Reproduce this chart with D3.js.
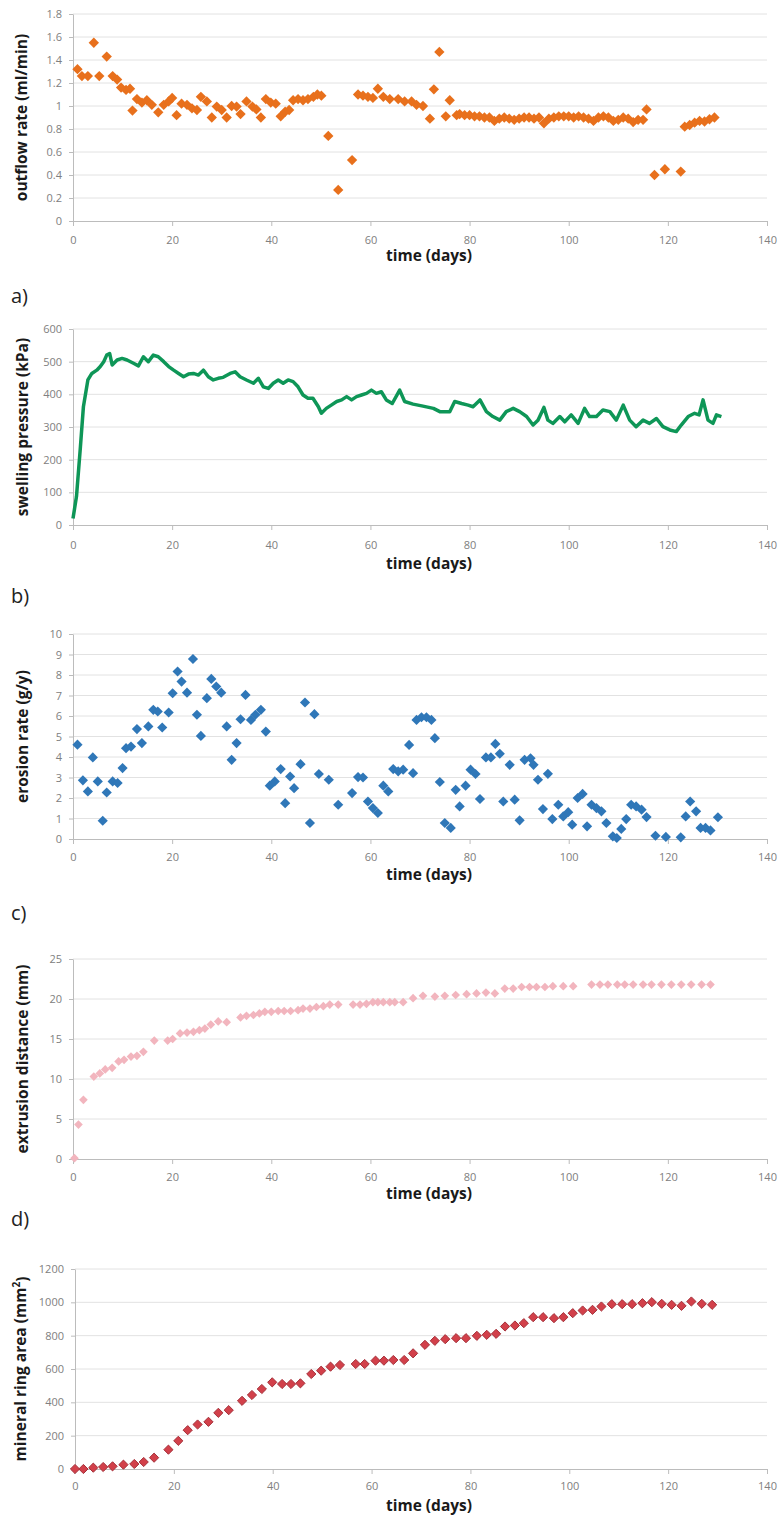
<!DOCTYPE html>
<html>
<head>
<meta charset="utf-8">
<script src="https://cdn.jsdelivr.net/npm/d3@7"></script>
<style>
  html, body { margin: 0; padding: 0; background: #fff; }
  svg { display: block; }
</style>
</head>
<body>
<svg id="chart" width="781" height="1517"></svg>
<script>
// ---- data ----
var xTicks = [0, 20, 40, 60, 80, 100, 120, 140];

// a) outflow rate (ml/min)
var outflowTicks = [0, 0.2, 0.4, 0.6, 0.8, 1, 1.2, 1.4, 1.6, 1.8];
var outflowDays = [0.9, 1.8, 3, 4.2, 5.3, 6.8, 8, 8.9, 9.7, 10.7, 11.5, 12, 12.9, 13.9, 14.9, 15.9, 17.2, 18.3, 19.3, 20,
    20.9, 21.9, 23, 24, 25, 25.8, 27, 28, 29, 30, 31, 32, 33, 33.8, 35, 36.2, 37, 37.9, 38.9, 39.9,
    40.9, 41.9, 42.8, 43.6, 44.4, 45.4, 46.4, 47.4, 48.5, 49.3, 50.1, 51.5, 53.5, 56.3, 57.5, 58.5, 59.5, 60.5, 61.5, 62.6,
    63.9, 65.6, 66.9, 68.3, 69.3, 70.6, 72, 72.8, 73.9, 75.2, 76, 77.4,
    78, 79, 80, 81, 82, 83, 84, 85, 86, 87, 88, 89, 90, 91, 92, 93, 94, 95, 96, 97,
    98, 99, 100, 101, 102, 103, 104, 105, 106, 107, 108, 109, 110, 111, 112, 113, 114, 115,
    115.7, 117.3, 119.4, 122.6, 123.4, 124.4, 125.4, 126.4, 127.4, 128.4, 129.4];
var outflowRate = [1.32, 1.26, 1.26, 1.55, 1.26, 1.43, 1.26, 1.23, 1.16, 1.14, 1.15, 0.96, 1.06, 1.03, 1.05, 1.01, 0.945, 1.01, 1.04, 1.07,
    0.92, 1.02, 1.01, 0.98, 0.965, 1.08, 1.04, 0.90, 0.995, 0.965, 0.90, 1.0, 0.995, 0.93, 1.04, 0.995, 0.97, 0.90, 1.06, 1.03,
    1.02, 0.91, 0.95, 0.965, 1.05, 1.06, 1.05, 1.06, 1.08, 1.10, 1.09, 0.74, 0.27, 0.53, 1.10, 1.09, 1.08, 1.07, 1.15, 1.08,
    1.06, 1.06, 1.04, 1.04, 1.01, 1.0, 0.89, 1.145, 1.47, 0.91, 1.05, 0.92,
    0.93, 0.92, 0.92, 0.91, 0.91, 0.90, 0.90, 0.87, 0.89, 0.90, 0.89, 0.88, 0.89, 0.90, 0.90, 0.89, 0.90, 0.85, 0.89, 0.90,
    0.91, 0.91, 0.91, 0.90, 0.91, 0.90, 0.89, 0.87, 0.90, 0.91, 0.90, 0.87, 0.88, 0.90, 0.89, 0.86, 0.88, 0.88,
    0.97, 0.40, 0.45, 0.43, 0.82, 0.835, 0.855, 0.87, 0.865, 0.885, 0.90];

// b) swelling pressure (kPa)
var pressureTicks = [0, 100, 200, 300, 400, 500, 600];
var pressureDays = [0, 0.7, 1.5, 2.1, 3, 3.8, 4.8, 5.5, 6.2, 6.8, 7.4, 7.9, 8.9, 9.9, 10.9, 12.2, 13.2, 14.2, 15.2, 16.2,
    17.2, 18.3, 19.3, 20.3, 21.3, 22.3, 23.3, 24.3, 25.3, 26.3, 27.3, 28.3, 29.3, 30.3, 31.7, 32.7, 33.7, 35, 36.4, 37.4,
    38.4, 39.4, 40.4, 41.4, 42.4, 43.4, 44.4, 45.4, 46.4, 47.4, 48.4, 49.5, 50.1, 51.1, 52.1, 53.2, 54.2, 55.2, 56.2, 57.2,
    58.2, 59.2, 60.2, 61.2, 62.2, 63.2, 64.4, 65.9, 66.9, 68.6, 70.6, 72.7, 74, 76, 77, 78.4, 79.7, 80.7, 82.1, 83.4,
    84.7, 86.1, 87.4, 88.8, 90.1, 91.5, 92.8, 93.8, 95, 95.8, 96.8, 98.2, 99.2, 100.5, 101.9, 103.2, 104.2, 105.6, 106.9, 108.3,
    109.6, 111, 112.3, 113.6, 115, 116.3, 117.7, 119, 120.4, 121.7, 122.7, 124.1, 125.4, 126.3, 127.1, 128.1, 129.1, 129.8, 130.8];
var pressure = [20, 87, 240, 362, 444, 464, 474, 485, 500, 520, 525, 490, 505, 510, 505, 495, 487, 515, 500, 520,
    515, 500, 485, 474, 464, 454, 462, 464, 459, 474, 454, 444, 449, 452, 464, 469, 454, 444, 434, 449,
    423, 418, 434, 444, 434, 444, 439, 423, 398, 388, 388, 362, 342, 357, 367, 378, 383, 393, 383, 393,
    398, 403, 413, 403, 408, 383, 372, 413, 378, 370, 364, 357, 347, 347, 378, 372, 367, 362, 383, 347,
    332, 321, 347, 357, 347, 332, 306, 321, 360, 321, 311, 332, 316, 337, 311, 357, 332, 332, 352, 347,
    321, 367, 321, 301, 321, 311, 326, 301, 291, 286, 306, 332, 342, 337, 383, 321, 311, 337, 332];

// c) erosion rate (g/y)
var erosionTicks = [0, 1, 2, 3, 4, 5, 6, 7, 8, 9, 10];
var erosionDays = [0.9, 2, 3, 4, 5, 6, 6.8, 8, 9, 10, 10.7, 11.7, 12.9, 13.9, 15.2, 16.2, 17.1, 18, 19.3, 20.1,
    21.1, 21.9, 23, 24.2, 25, 25.8, 27, 27.9, 28.9, 29.9, 31, 32, 33, 33.8, 34.8, 35.9, 36.8, 37.9, 38.9, 39.7,
    40.7, 41.9, 42.8, 43.8, 44.6, 45.9, 46.8, 47.8, 48.7, 49.6, 51.6, 53.5, 56.3, 57.5, 58.5, 59.5, 60.5, 61.5, 62.6, 63.6,
    64.6, 65.6, 66.6, 67.8, 68.6, 69.3, 70.3, 71.3, 72.3, 73, 74, 75, 76.2, 77.2, 78, 79.2, 80.2, 81.2, 82.1, 83.3,
    84.3, 85.2, 86.1, 86.8, 88.1, 89.1, 90.1, 91.1, 92.3, 92.9, 93.8, 94.8, 95.8, 96.7, 97.9, 98.9, 99.9, 100.7, 101.8, 102.8,
    103.7, 104.6, 105.6, 106.6, 107.6, 108.9, 109.7, 110.6, 111.6, 112.6, 113.6, 114.7, 115.7, 117.5, 119.6, 122.6, 123.6, 124.5, 125.7, 126.6,
    127.6, 128.6, 130.1];
var erosion = [4.6, 2.86, 2.32, 3.98, 2.81, 0.89, 2.27, 2.81, 2.73, 3.46, 4.43, 4.51, 5.36, 4.68, 5.49, 6.3, 6.22, 5.44, 6.17, 7.11,
    8.17, 7.68, 7.14, 8.78, 6.06, 5.03, 6.87, 7.81, 7.44, 7.14, 5.49, 3.86, 4.68, 5.84, 7.03, 5.81, 6.06, 6.3, 5.24, 2.6,
    2.81, 3.41, 1.75, 3.05, 2.48, 3.65, 6.66, 0.78, 6.09, 3.17, 2.89, 1.67, 2.24, 3.02, 3.0, 1.83, 1.51, 1.27, 2.6, 2.32,
    3.41, 3.3, 3.38, 4.59, 3.21, 5.81, 5.94, 5.94, 5.81, 4.92, 2.78, 0.78, 0.54, 2.4, 1.59, 2.6, 3.38, 3.17, 1.95, 3.98,
    3.98, 4.64, 4.16, 1.83, 3.62, 1.92, 0.91, 3.86, 3.94, 3.62, 2.89, 1.46, 3.18, 0.97, 1.67, 1.1, 1.31, 0.7, 2.0, 2.2,
    0.62, 1.67, 1.51, 1.35, 0.78, 0.13, 0.05, 0.49, 0.97, 1.67, 1.59, 1.43, 1.07, 0.16, 0.1, 0.08, 1.1, 1.83, 1.35, 0.54,
    0.54, 0.42, 1.06];

// d) extrusion distance (mm)
var extrusionTicks = [0, 5, 10, 15, 20, 25];
var extrusionDays = [0.3, 1.1, 2.1, 4.2, 5.4, 6.5, 7.9, 9.2, 10.3, 11.7, 12.9, 14.2, 16.4, 19.1, 20.1, 21.6, 23, 24.3, 25.5, 26.6,
    27.8, 29.3, 31, 33.8, 35, 36.4, 37.6, 38.7, 40, 41.4, 42.6, 43.9, 45.4, 46.4, 47.8, 49.1, 50.5, 51.8, 53.5, 56.5,
    57.9, 59.2, 60.5, 61.5, 62.6, 63.9, 64.9, 66.6, 68.6, 70.6, 73, 75, 77.2, 79.4, 81.4, 83.3, 85.1, 87.1, 88.8, 90.5,
    92.1, 93.5, 95.2, 96.8, 98.9, 100.9, 104.6, 106.3, 107.9, 109.8, 111.3, 113, 115, 116.7, 118.7, 120.7, 122.7, 124.7, 126.8, 128.6];
var extrusion = [0.1, 4.3, 7.4, 10.3, 10.7, 11.2, 11.4, 12.2, 12.4, 12.8, 12.9, 13.4, 14.8, 14.8, 15, 15.7, 15.8, 15.9, 16.1, 16.3,
    16.8, 17.2, 17.1, 17.7, 17.9, 18, 18.2, 18.4, 18.4, 18.5, 18.5, 18.5, 18.6, 18.8, 18.8, 19, 19.1, 19.3, 19.3, 19.3,
    19.3, 19.4, 19.6, 19.6, 19.6, 19.6, 19.6, 19.6, 20.1, 20.4, 20.3, 20.4, 20.5, 20.6, 20.7, 20.8, 20.7, 21.3, 21.3, 21.5,
    21.5, 21.5, 21.5, 21.6, 21.6, 21.6, 21.8, 21.8, 21.8, 21.8, 21.8, 21.8, 21.8, 21.8, 21.8, 21.8, 21.8, 21.8, 21.8, 21.8];

// e) mineral ring area (mm2)
var ringTicks = [0, 200, 400, 600, 800, 1000, 1200];
var ringDays = [0, 1.7, 3.7, 5.7, 7.6, 9.8, 12, 13.9, 16, 18.9, 20.9, 22.8, 24.8, 27, 29, 31.1, 33.8, 35.8, 37.8, 39.9,
    41.9, 43.7, 45.6, 47.8, 49.8, 51.7, 53.6, 56.8, 58.6, 60.8, 62.5, 64.4, 66.6, 68.4, 70.8, 72.8, 74.9, 77.1, 79.1, 81.3,
    83.3, 85.2, 87, 89, 90.8, 92.7, 94.7, 96.9, 98.8, 100.7, 102.7, 104.7, 106.5, 108.6, 110.7, 112.7, 114.8, 116.7, 118.7, 120.7,
    122.7, 124.7, 126.8, 128.9];
var ringArea = [0, 0, 8, 12, 16, 26, 30, 42, 68, 116, 169, 233, 267, 283, 337, 353, 409, 444, 480, 520,
    510, 510, 514, 570, 590, 614, 624, 630, 630, 650, 650, 654, 654, 694, 745, 769, 779, 785, 785, 799,
    805, 811, 855, 861, 875, 911, 911, 905, 911, 935, 951, 955, 975, 989, 989, 989, 995, 1001, 991, 985,
    979, 1005, 991, 985];

// ---- layout ----
var svg = d3.select("#chart");
var fontFam = "'Open Sans', 'Noto Sans', sans-serif";
var xRight = 767;

svg.append("rect").attr("width", 781).attr("height", 1517).attr("fill", "#fff");

function drawPanel(p) {
    var x = d3.scaleLinear().domain([0, 140]).range([p.left, xRight]);
    var y = d3.scaleLinear().domain([0, p.yTicks[p.yTicks.length - 1]]).range([p.bottom, p.top]);
    var g = svg.append("g");

    // horizontal gridlines
    g.append("g").selectAll("line")
            .data(p.yTicks.slice(1))
            .join("line")
            .attr("x1", p.left).attr("x2", xRight)
            .attr("y1", function (d) { return y(d); })
            .attr("y2", function (d) { return y(d); })
            .attr("stroke", "#e2e2e2")
            .attr("stroke-width", 1);

    var fmt = d3.format("~g");
    var ax = g.append("g")
            .attr("transform", "translate(0," + p.bottom + ")")
            .call(d3.axisBottom(x).tickValues(xTicks).tickSizeInner(5).tickSizeOuter(0).tickPadding(p.xPad).tickFormat(fmt));
    var ay = g.append("g")
            .attr("transform", "translate(" + p.left + ",0)")
            .call(d3.axisLeft(y).tickValues(p.yTicks).tickSizeInner(4).tickSizeOuter(0).tickPadding(7).tickFormat(fmt));
    [ax, ay].forEach(function (a) {
        a.select(".domain").attr("stroke", "#bcbcbc");
        a.selectAll(".tick line").attr("stroke", "#bcbcbc");
        a.selectAll(".tick text")
                .attr("fill", "#808080")
                .style("font-family", fontFam)
                .style("font-size", "11px");
    });

    // axis titles
    g.append("text")
            .attr("x", 429).attr("y", p.xLabelY)
            .attr("text-anchor", "middle")
            .attr("dominant-baseline", "central")
            .style("font-family", fontFam).style("font-size", "15.5px").style("font-weight", "bold")
            .attr("fill", "#1a1a1a")
            .text("time (days)");

    var yl = g.append("text")
            .attr("transform", "translate(" + p.yLabelX + "," + ((p.top + p.bottom) / 2) + ") rotate(-90)")
            .attr("text-anchor", "middle")
            .attr("dominant-baseline", "central")
            .style("font-family", fontFam).style("font-size", "15.5px").style("font-weight", "bold")
            .attr("fill", "#1a1a1a");
    if (p.yLabelSup) {
        yl.append("tspan").text(p.yLabel);
        yl.append("tspan").attr("dy", "-0.45em").style("font-size", "10px").text(p.yLabelSup);
        yl.append("tspan").attr("dy", "0.45em").text(")");
    } else {
        yl.text(p.yLabel);
    }

    p.draw(g, x, y);
}

function diamonds(g, xs, ys, x, y, size, fill, stroke) {
    var sym = d3.symbol().type(d3.symbolDiamond2).size(size);
    g.append("g").selectAll("path")
            .data(xs.map(function (d, i) { return [d, ys[i]]; }))
            .join("path")
            .attr("d", sym)
            .attr("transform", function (d) { return "translate(" + x(d[0]) + "," + y(d[1]) + ")"; })
            .attr("fill", fill)
            .attr("stroke", stroke || "none")
            .attr("stroke-width", stroke ? 1 : 0);
}

function panelLetter(txt, yy) {
    svg.append("text")
            .attr("x", 11).attr("y", yy)
            .attr("dominant-baseline", "central")
            .style("font-family", fontFam).style("font-size", "20px")
            .attr("fill", "#222")
            .text(txt);
}

drawPanel({
    top: 14, bottom: 221, left: 73, xPad: 10, xLabelY: 255, yLabelX: 21,
    yTicks: outflowTicks, yLabel: "outflow rate (ml/min)",
    draw: function (g, x, y) { diamonds(g, outflowDays, outflowRate, x, y, 68, "#e8701c"); }
});
panelLetter("a)", 295);

drawPanel({
    top: 329, bottom: 525, left: 73, xPad: 11, xLabelY: 563, yLabelX: 22,
    yTicks: pressureTicks, yLabel: "swelling pressure (kPa)",
    draw: function (g, x, y) {
        var line = d3.line()
                .x(function (d) { return x(d[0]); })
                .y(function (d) { return y(d[1]); });
        g.append("path")
                .datum(pressureDays.map(function (d, i) { return [d, pressure[i]]; }))
                .attr("d", line)
                .attr("fill", "none")
                .attr("stroke", "#0e9657")
                .attr("stroke-width", 3.5)
                .attr("stroke-linejoin", "round");
    }
});
panelLetter("b)", 595);

drawPanel({
    top: 634, bottom: 839, left: 73, xPad: 9, xLabelY: 874, yLabelX: 22,
    yTicks: erosionTicks, yLabel: "erosion rate (g/y)",
    draw: function (g, x, y) { diamonds(g, erosionDays, erosion, x, y, 66, "#2f77b8"); }
});
panelLetter("c)", 912);

drawPanel({
    top: 959, bottom: 1159, left: 73, xPad: 9, xLabelY: 1193, yLabelX: 22,
    yTicks: extrusionTicks, yLabel: "extrusion distance (mm)",
    draw: function (g, x, y) { diamonds(g, extrusionDays, extrusion, x, y, 48, "#f2b5be"); }
});
panelLetter("d)", 1218);

drawPanel({
    top: 1269, bottom: 1469, left: 75, xPad: 8, xLabelY: 1505, yLabelX: 20,
    yTicks: ringTicks, yLabel: "mineral ring area (mm", yLabelSup: "2",
    draw: function (g, x, y) { diamonds(g, ringDays, ringArea, x, y, 54, "#d2404a", "#a5303a"); }
});
</script>
</body>
</html>
